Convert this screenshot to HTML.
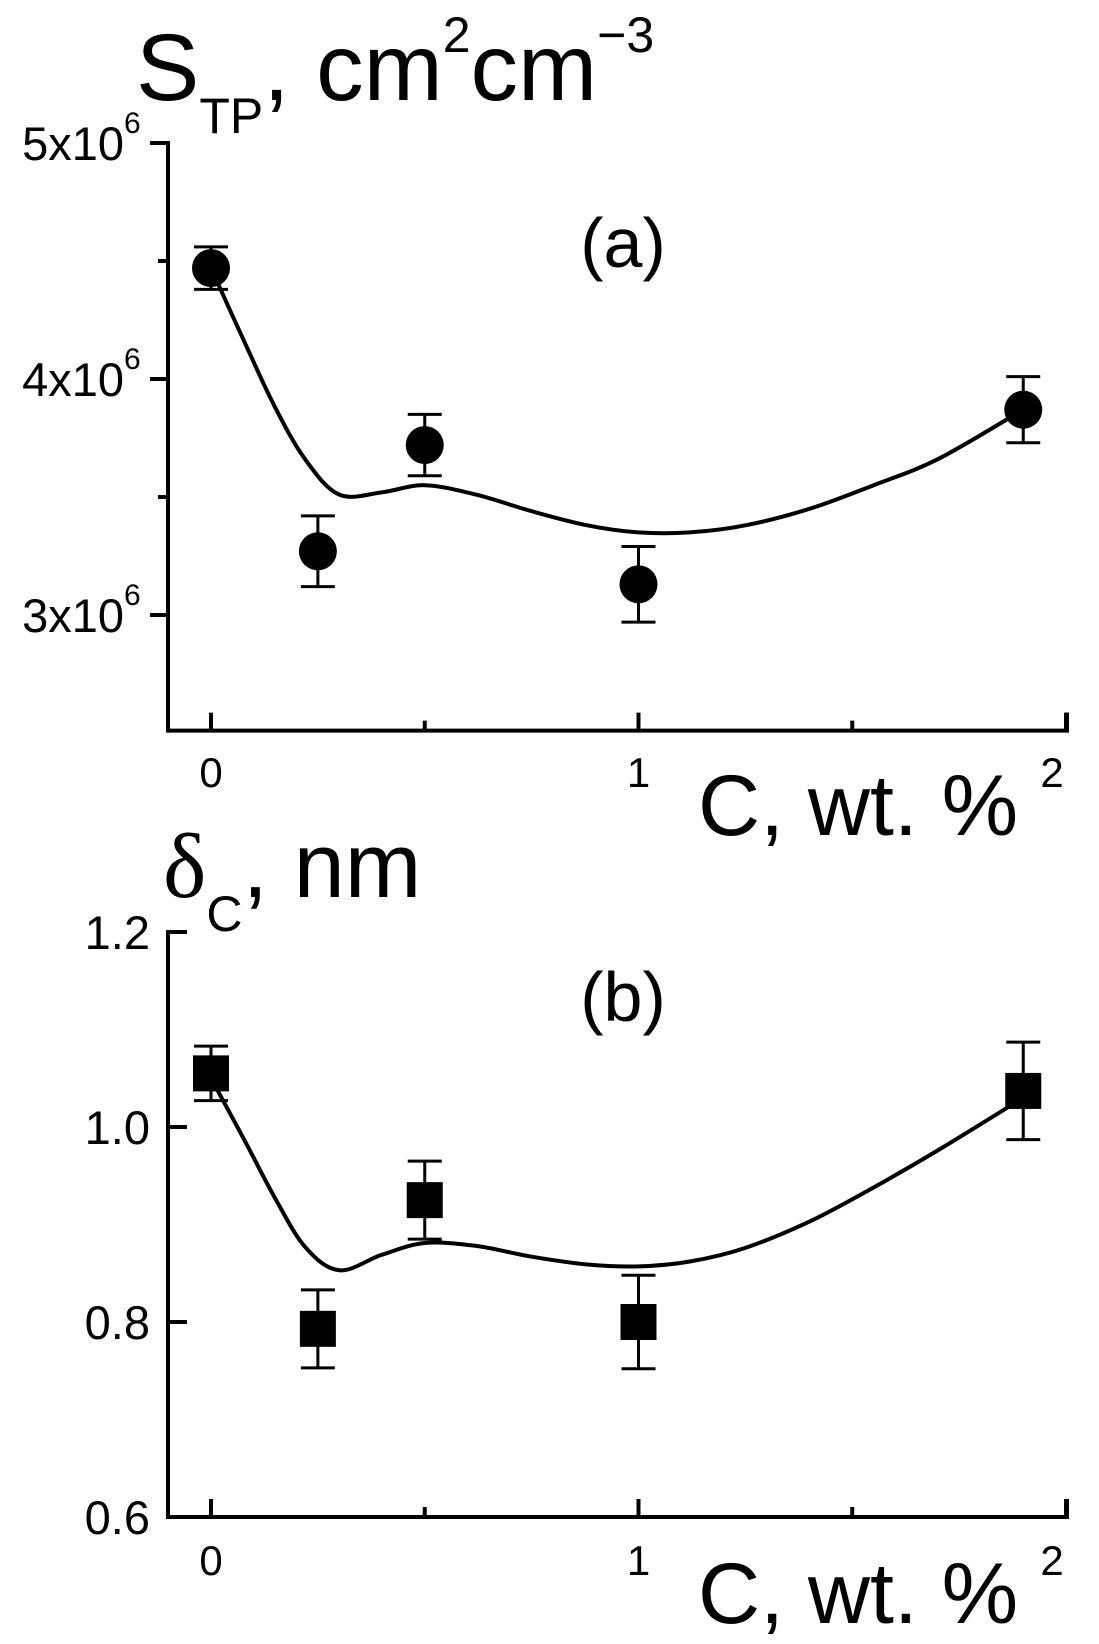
<!DOCTYPE html>
<html><head><meta charset="utf-8"><style>
html,body{margin:0;padding:0;background:#fff;}
svg{display:block;font-family:"Liberation Sans",Arial,sans-serif;}
</style></head><body>
<svg id="chart" width="1099" height="1644" viewBox="0 0 1099 1644">
<g id="pa"></g>
<g id="pb"></g>
<text x="136" y="100" font-size="95">S<tspan font-size="50" dy="33">TP</tspan><tspan dy="-33">, cm</tspan><tspan font-size="50" dy="-48">2</tspan><tspan dy="48">cm</tspan><tspan font-size="50" dy="-48">−3</tspan></text>
<text x="623" y="267" font-size="70" text-anchor="middle">(a)</text>
<text x="698" y="835" font-size="86">C, wt. %</text>
<text x="163" y="897" font-size="92" font-family="Liberation Serif,serif">δ<tspan font-family="Liberation Sans,sans-serif" font-size="50" dy="34">C</tspan><tspan font-family="Liberation Sans,sans-serif" dy="-34">, nm</tspan></text>
<text x="623" y="1021" font-size="70" text-anchor="middle">(b)</text>
<text x="698" y="1623" font-size="86">C, wt. %</text>
</svg>
<script>
const xVals = [0, 0.25, 0.5, 1, 1.9];
const aVals = [4.47, 3.27, 3.72, 3.13, 3.87];
const aErr = [0.09, 0.15, 0.13, 0.16, 0.14];
const aFitX = [0, 0.08, 0.15, 0.22, 0.3, 0.4, 0.5, 0.62, 0.75, 0.88, 1.0, 1.12, 1.25, 1.4, 1.55, 1.7, 1.9];
const aFitY = [4.47, 4.15, 3.88, 3.66, 3.51, 3.52, 3.55, 3.51, 3.44, 3.38, 3.35, 3.35, 3.38, 3.45, 3.55, 3.66, 3.87];
const bVals = [1.055, 0.793, 0.925, 0.80, 1.037];
const bErr = [0.028, 0.04, 0.04, 0.048, 0.05];
const bFitX = [0, 0.08, 0.15, 0.22, 0.3, 0.4, 0.5, 0.62, 0.75, 0.88, 1.0, 1.12, 1.25, 1.4, 1.55, 1.7, 1.9];
const bFitY = [1.05, 0.985, 0.927, 0.877, 0.853, 0.869, 0.881, 0.878, 0.867, 0.859, 0.857, 0.862, 0.876, 0.903, 0.938, 0.976, 1.03];
const aTicks = [3, 4, 5];
const aTickLabels = ["3x10", "4x10", "5x10"];
const bTicks = [0.6, 0.8, 1.0, 1.2];
const bTickLabels = ["0.6", "0.8", "1.0", "1.2"];
const xTicks = [0, 1, 2];
const xTickLabels = ["0", "1", "2"];

const NS = "http://www.w3.org/2000/svg";
const xS = v => 211 + v * 427.5;
function mk(parent, tag, attrs) {
  const e = document.createElementNS(NS, tag);
  for (const k in attrs) e.setAttribute(k, attrs[k]);
  parent.appendChild(e);
  return e;
}
function smooth(pts) {
  let d = `M${pts[0][0].toFixed(1)} ${pts[0][1].toFixed(1)}`;
  for (let i = 0; i < pts.length - 1; i++) {
    const p0 = pts[Math.max(0, i - 1)], p1 = pts[i], p2 = pts[i + 1], p3 = pts[Math.min(pts.length - 1, i + 2)];
    const c1x = p1[0] + (p2[0] - p0[0]) / 6, c1y = p1[1] + (p2[1] - p0[1]) / 6;
    const c2x = p2[0] - (p3[0] - p1[0]) / 6, c2y = p2[1] - (p3[1] - p1[1]) / 6;
    d += ` C${c1x.toFixed(1)} ${c1y.toFixed(1)} ${c2x.toFixed(1)} ${c2y.toFixed(1)} ${p2[0].toFixed(1)} ${p2[1].toFixed(1)}`;
  }
  return d;
}
function panel(g, yS, y0, y1, yMinor, yTicks, yLabels, sup, vals, errs, fx, fy, marker, xLabY, inward) {
  const top = yS(y1), bot = yS(y0);
  const ax = mk(g, "path", {d: inward ? `M187 ${top} H168 V${bot} H1067 V${bot-18}` : `M150 ${top} H168 V${bot} H1067 V${bot-18}`, fill: "none", stroke: "#000", "stroke-width": 4});
  
  
  yMinor.forEach(v => {
    const t = mk(g, "line", {x1: 158, x2: 168, y1: yS(v), y2: yS(v), stroke: "#000", "stroke-width": 4});
    
    
  });
  yTicks.forEach((v, i) => {
    const t = mk(g, "line", {x1: inward ? 187 : 150, x2: 168, y1: yS(v), y2: yS(v), stroke: "#000", "stroke-width": 4});
    
    
    const tx = mk(g, "text", {x: sup ? 124 : 150, y: yS(v) + 17, "font-size": 47, "text-anchor": "end"});
    tx.textContent = yLabels[i];
    
    
    if (sup) {
      const s = mk(g, "text", {x: 124, y: yS(v) - 10, "font-size": 30});
      s.textContent = "6";
      
      
    }
  });
  [0, 0.5, 1, 1.5, 2].forEach(v => {
    const t = mk(g, "line", {x1: xS(v), x2: xS(v), y1: bot, y2: bot - (v % 1 === 0 ? 18 : 10), stroke: "#000", "stroke-width": 4});
    
    
  });
  xTicks.forEach((v, i) => {
    const tx = mk(g, "text", {x: xS(v) + (v === 2 ? -14 : 0), y: xLabY, "font-size": 42, "text-anchor": "middle"});
    tx.textContent = xTickLabels[i];
    
    
  });
  const pts = fx.map((v, i) => [xS(v), yS(fy[i])]);
  const fit = mk(g, "path", {d: smooth(pts), fill: "none", stroke: "#000", "stroke-width": 4, "stroke-linejoin": "round"});
  
  
  xVals.forEach((v, i) => {
    const x = xS(v), yt = yS(vals[i] + errs[i]), yb = yS(vals[i] - errs[i]);
    const e = mk(g, "path", {d: `M${x-17} ${yt} H${x+17} M${x} ${yt} V${yb} M${x-17} ${yb} H${x+17}`, stroke: "#000", "stroke-width": 3, fill: "none"});
    
    
    let m;
    if (marker === "circle") m = mk(g, "circle", {cx: x, cy: yS(vals[i]), r: 19, fill: "#000"});
    else m = mk(g, "rect", {x: x - 18, y: yS(vals[i]) - 18, width: 36, height: 36, fill: "#000"});
    
    
  });
}
const yA = v => 143 + (5 - v) * 236;
const yB = v => 932 + (1.2 - v) * 975;
panel(document.getElementById("pa"), yA, 2.51, 5, [3.5, 4.5], aTicks, aTickLabels, true, aVals, aErr, aFitX, aFitY, "circle", 787, false);
panel(document.getElementById("pb"), yB, 0.6, 1.2, [], bTicks, bTickLabels, false, bVals, bErr, bFitX, bFitY, "square", 1575, true);
</script>
</body></html>
